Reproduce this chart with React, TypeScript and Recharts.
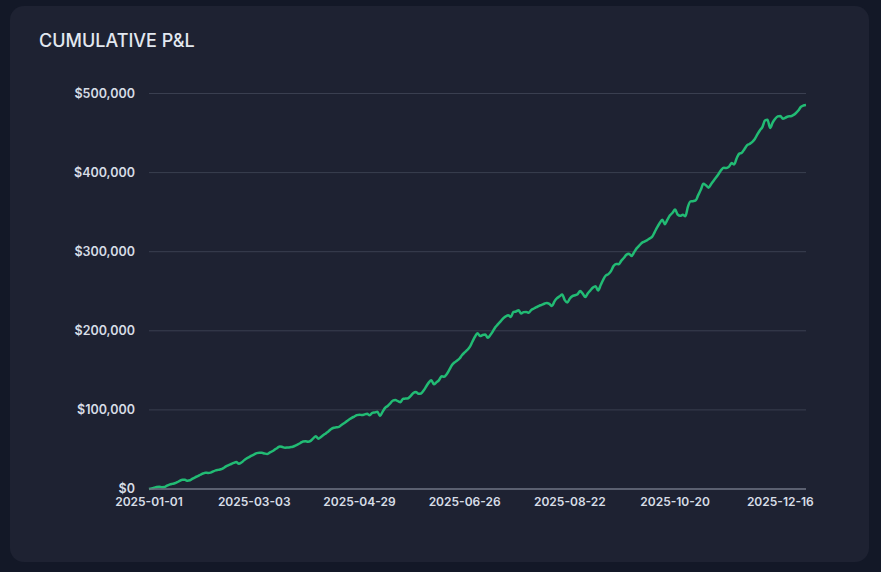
import React from 'react';
import { LineChart, Line, XAxis, YAxis, CartesianGrid } from 'recharts';

const TITLE = 'CUMULATIVE P&L';
const START_DATE = '2025-01-01';
const END_DATE = '2025-12-31';
const HOLIDAYS = ['2025-01-20', '2025-02-17', '2025-05-26', '2025-12-25'];
const Y_TICKS = [0, 100000, 200000, 300000, 400000, 500000];

const PNL = [
  0, 800, 1500, 2600, 3000, 2200, 2400, 4200, 5600, 6500,
  7200, 8600, 10400, 11800, 11600, 10500, 11000, 13100, 14800, 16200,
  18000, 19600, 20600, 20300, 20700, 22300, 23600, 24200, 24900, 26400,
  28600, 30200, 31600, 33000, 34200, 31800, 33400, 36200, 38600, 40300,
  42200, 43800, 45400, 45900, 45700, 44900, 44300, 46000, 47700, 49800,
  51900, 53800, 53100, 52200, 52500, 52900, 53400, 54800, 56300, 58200,
  60100, 60500, 59600, 60800, 64000, 66800, 63600, 65700, 68200, 70600,
  73100, 75900, 77500, 78000, 78600, 81000, 83200, 85500, 87800, 90000,
  91600, 93300, 94000, 93400, 94300, 95100, 93100, 96200, 96800, 97600,
  92300, 97600, 102600, 105000, 108200, 111800, 112400, 111000, 109800, 114200,
  114300, 114800, 117800, 121300, 122600, 120300, 120800, 124500, 129600, 134500,
  137400, 132300, 134800, 137600, 142500, 141900, 145200, 150600, 156400, 159900,
  162200, 165000, 169400, 172600, 175800, 179600, 186200, 192500, 197000, 193400,
  194600, 195200, 191200, 194600, 199400, 204800, 208400, 212000, 215700, 218300,
  219700, 217500, 223800, 224400, 226000, 221800, 223600, 223900, 222800, 226500,
  228200, 229800, 231600, 232800, 234200, 235300, 234000, 231400, 237200, 241200,
  243600, 245900, 238800, 235800, 240800, 243900, 244900, 246200, 250300, 247000,
  242800, 247500, 251200, 254600, 256200, 251000, 257800, 264800, 269900, 271600,
  275400, 281900, 284500, 284200, 288400, 292000, 296100, 297500, 294600, 299100,
  304200, 307600, 311000, 312800, 314400, 316500, 318700, 324500, 330800, 336200,
  340500, 334800, 340400, 346000, 349200, 353400, 347000, 345500, 346600, 344800,
  357000, 363600, 363900, 364800, 371500, 378200, 385900, 384000, 381000, 385300,
  389800, 394000, 398600, 403400, 406000, 405700, 407500, 412000, 410300, 418200,
  424000, 425100, 429600, 434300, 436200, 438500, 442200, 448000, 453300, 457400,
  465800, 466900, 456400, 463200, 468000, 471000, 471600, 468200, 469400, 471000,
  471200, 472600, 475000, 478400, 483000, 484800, 485400,
];

function tradingDays(): string[] {
  const out: string[] = [];
  const d = new Date(START_DATE + 'T00:00:00Z');
  const end = new Date(END_DATE + 'T00:00:00Z');
  while (d <= end) {
    const iso = d.toISOString().slice(0, 10);
    const wd = d.getUTCDay();
    if (wd !== 0 && wd !== 6 && !HOLIDAYS.includes(iso)) out.push(iso);
    d.setUTCDate(d.getUTCDate() + 1);
  }
  return out;
}

const DATES = tradingDays();
const data = PNL.map((v, i) => ({ date: DATES[i], pnl: v }));

const fmt = (v: number) => '$' + v.toLocaleString('en-US');

export default function App() {
  return (
    <div style={{ position: 'fixed', left: 0, top: 0, width: 881, height: 572, background: '#131827', fontFamily: 'Inter, sans-serif' }}>
      <div style={{ position: 'absolute', left: 10, top: 6, width: 859, height: 556, borderRadius: 14, background: '#1e2232' }} />
      <div style={{ position: 'absolute', left: 39, top: 30, fontSize: 18, fontWeight: 500, color: '#e2e8f0', letterSpacing: 0 }}>{TITLE}</div>
      <div style={{ position: 'absolute', left: 0, top: 0 }}>
        <LineChart width={881} height={572} data={data} margin={{ top: 93.5, right: 75, bottom: 53, left: 69 }}>
          <CartesianGrid vertical={false} stroke="#3a3f50" strokeWidth={1} />
          <XAxis
            dataKey="date"
            interval={40}
            tickLine={false}
            axisLine={{ stroke: '#6b7080', strokeWidth: 1.5 }}
            tick={{ fill: '#d7dde6', fontSize: 12, fontWeight: 600, fontFamily: 'Inter, sans-serif' }}
            tickMargin={2}
            height={30}
          />
          <YAxis
            domain={[0, 500000]}
            ticks={Y_TICKS}
            tickFormatter={fmt}
            tickLine={false}
            axisLine={false}
            width={80}
            tickMargin={8}
            tick={{ fill: '#d7dde6', fontSize: 12.5, fontWeight: 600, fontFamily: 'Inter, sans-serif' }}
          />
          <Line
            type="monotone"
            dataKey="pnl"
            stroke="#22bb74"
            strokeWidth={2.5}
            dot={false}
            isAnimationActive={false}
          />
        </LineChart>
      </div>
    </div>
  );
}
